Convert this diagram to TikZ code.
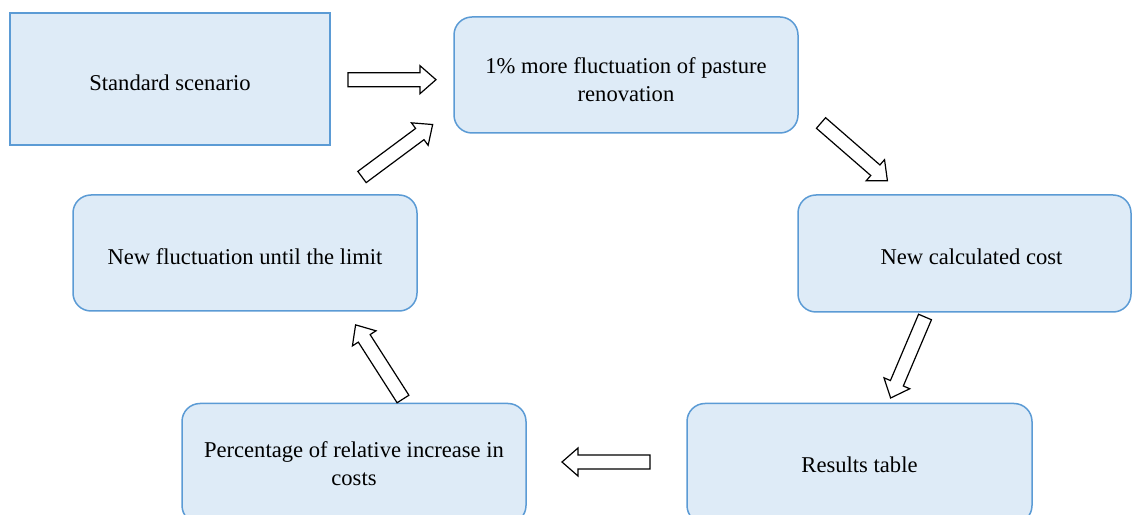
\documentclass[tikz,border=0pt]{standalone}
\usepackage{fontspec}
\setmainfont{Liberation Serif}
\definecolor{boxfill}{RGB}{222,235,247}
\definecolor{boxline}{RGB}{91,155,213}
\begin{document}
\begin{tikzpicture}[x=1pt,y=1pt,
  base/.style={draw=boxline, fill=boxfill, line width=1.5pt, inner sep=0pt},
  sqbox/.style={base, minimum width=320pt, minimum height=132pt},
  rbox/.style={base, rounded corners=18pt, minimum width=344pt, minimum height=116pt},
  txt/.style={inner sep=0pt, align=center, font=\fontsize{22.6}{28}\selectfont},
  arrowline/.style={draw=black, fill=white, line width=1.2pt, line join=miter},
  barrow/.pic={\draw[arrowline] (0,-7) -- (72,-7) -- (72,-14) -- (88,0) -- (72,14) -- (72,7) -- (0,7) -- cycle;}
]
\useasboundingbox (0,0) rectangle (1132,514);
\clip (0,0) rectangle (1132,514);
\fill[white] (0,0) rectangle (1132,514);

\node[sqbox] (std) at (170,435) {};
\node[rbox] (pct) at (626,439) {};
\node[rbox, minimum width=333pt, minimum height=117pt] (cost) at (964.5,260.5) {};
\node[rbox, minimum width=345pt, minimum height=120pt] (res) at (859.5,50.5) {};
\node[rbox, minimum height=120pt] (inc) at (354,50.5) {};
\node[rbox] (fluc) at (245,261) {};

\node[txt] (std-t) at ([yshift=-4pt]std.center) {Standard scenario};
\node[txt] (pct-t) at ([yshift=-5pt]pct.center) {1\% more fluctuation of pasture\\renovation};
\node[txt] (cost-t) at ([xshift=7pt,yshift=-3pt]cost.center) {New calculated cost};
\node[txt] (res-t) at ([yshift=-1pt]res.center) {Results table};
\node[txt] (inc-t) at (inc.center) {Percentage of relative increase in\\costs};
\node[txt] (fluc-t) at ([yshift=-4pt]fluc.center) {New fluctuation until the limit};

\pic (a1) at (348,434.3) {barrow};
\pic[rotate=-41] (a2) at (821,391) {barrow};
\pic[rotate=247] (a3) at (925,197) {barrow};
\pic[rotate=180] (a4) at (650,52) {barrow};
\pic[rotate=122.6] (a5) at (403,115) {barrow};
\pic[rotate=36.6] (a6) at (362,337) {barrow};
\end{tikzpicture}
\end{document}
